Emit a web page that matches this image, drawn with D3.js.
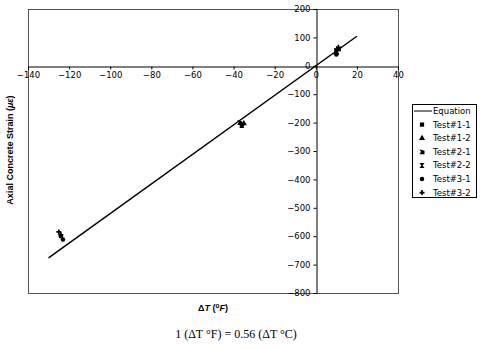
<!DOCTYPE html>
<html>
<head>
<meta charset="utf-8">
<script src="https://cdn.jsdelivr.net/npm/d3@7"></script>
<style>
  body { margin: 0; background: #fff; }
  svg { display: block; }
  .tick text { font-family: "DejaVu Sans", sans-serif; font-size: 8.5px; fill: #000; }
</style>
</head>
<body>
<script>
// equation line end points (deltaT F, strain)
const eqX = [-130, 20]
const eqY = [-676, 104]

// test data, deltaT (F) and axial strain (microstrain)
const seriesNames = ['Test#1-1', 'Test#1-2', 'Test#2-1', 'Test#2-2', 'Test#3-1', 'Test#3-2']
const seriesX = [
    [10, -36],
    [10, -35],
    [11, -37],
    [10, -36],
    [-124, -123, 10],
    [-125, -124, 11]
]
const seriesY = [
    [55, -207],
    [45, -203],
    [60, -200],
    [50, -210],
    [-600, -612, 40],
    [-585, -595, 65]
]

const xTicks = [-140, -120, -100, -80, -60, -40, -20, 0, 20, 40]
const yTicks = [200, 100, 0, -100, -200, -300, -400, -500, -600, -700, -800]

const width = 482, height = 349
const plot = { left: 28, right: 398, top: 9, bottom: 293 }

const svg = d3.select('body').append('svg')
    .attr('width', width)
    .attr('height', height)

const xScale = d3.scaleLinear()
    .domain([-140, 40])
    .range([plot.left, plot.right])

const yScale = d3.scaleLinear()
    .domain([-800, 200])
    .range([plot.bottom, plot.top])

// plot area frame
svg.append('rect')
    .attr('x', plot.left + 0.5)
    .attr('y', plot.top + 0.5)
    .attr('width', plot.right - plot.left)
    .attr('height', plot.bottom - plot.top)
    .attr('fill', 'none')
    .attr('stroke', '#555')

// x axis crosses at strain 0
const xAxis = svg.append('g')
    .attr('transform', 'translate(0,' + (Math.round(yScale(0)) + 0.5) + ')')
    .call(d3.axisBottom(xScale).tickValues(xTicks).tickSize(3).tickPadding(2).tickFormat(d3.format('d')))
xAxis.select('.domain').attr('stroke', '#000')

// y axis crosses at deltaT 0
const yAxis = svg.append('g')
    .attr('transform', 'translate(' + (Math.round(xScale(0)) + 0.5) + ',0)')
    .call(d3.axisLeft(yScale).tickValues(yTicks).tickSize(3).tickPadding(3).tickFormat(d3.format('d')))
yAxis.select('.domain').attr('stroke', '#000')

// equation line
const line = d3.line()
    .x(d => xScale(d[0]))
    .y(d => yScale(d[1]))

svg.append('path')
    .datum(d3.zip(eqX, eqY))
    .attr('d', line)
    .attr('fill', 'none')
    .attr('stroke', '#000')
    .attr('stroke-width', 1.5)

// marker shapes
const shapes = [
    d3.symbol().type(d3.symbolSquare).size(18)(),
    d3.symbol().type(d3.symbolTriangle).size(16)(),
    'M-2.5,-2.5L2.5,-1L2.5,2.5L-2.5,2.5L-1,0Z',
    'M-2.5,-2.5L2.5,-2.5L0.6,0L2.5,2.5L-2.5,2.5L-0.6,0Z',
    d3.symbol().type(d3.symbolCircle).size(16)(),
    d3.symbol().type(d3.symbolCross).size(14)()
]

seriesNames.forEach((name, i) => {
    svg.append('g').selectAll('path')
        .data(d3.zip(seriesX[i], seriesY[i]))
        .enter()
        .append('path')
        .attr('d', shapes[i])
        .attr('transform', d => 'translate(' + xScale(d[0]) + ',' + yScale(d[1]) + ')')
        .attr('fill', '#000')
})

// legend
const legend = svg.append('g')
legend.append('rect')
    .attr('x', 412.5).attr('y', 104.5)
    .attr('width', 64).attr('height', 93)
    .attr('fill', '#fff').attr('stroke', '#000')

const rowY = i => 111 + i * 13.6
legend.append('line')
    .attr('x1', 414).attr('x2', 432)
    .attr('y1', rowY(0)).attr('y2', rowY(0))
    .attr('stroke', '#000')
legend.append('text')
    .attr('x', 433).attr('y', rowY(0) + 3)
    .style('font-family', 'DejaVu Sans, sans-serif').style('font-size', '8.5px')
    .text('Equation')

seriesNames.forEach((name, i) => {
    legend.append('path')
        .attr('d', shapes[i])
        .attr('transform', 'translate(422,' + rowY(i + 1) + ')')
        .attr('fill', '#000')
    legend.append('text')
        .attr('x', 433).attr('y', rowY(i + 1) + 3)
        .style('font-family', 'DejaVu Sans, sans-serif').style('font-size', '8.5px')
        .text(name)
})

// y axis title
const yTitle = svg.append('text')
    .attr('transform', 'translate(13,150) rotate(-90)')
    .attr('text-anchor', 'middle')
    .style('font-family', 'Liberation Sans, Arial, sans-serif')
    .style('font-size', '9px')
    .style('font-weight', 'bold')
yTitle.append('tspan').text('Axial Concrete Strain (')
yTitle.append('tspan').style('font-style', 'italic').text('με')
yTitle.append('tspan').text(')')

// x axis title
const xTitle = svg.append('text')
    .attr('x', 213).attr('y', 311)
    .attr('text-anchor', 'middle')
    .style('font-family', 'Liberation Sans, Arial, sans-serif')
    .style('font-size', '9px')
    .style('font-weight', 'bold')
xTitle.append('tspan').text('Δ')
xTitle.append('tspan').style('font-style', 'italic').text('T')
xTitle.append('tspan').text(' (')
xTitle.append('tspan').attr('dy', -3).style('font-size', '6.5px').text('o')
xTitle.append('tspan').attr('dy', 3).style('font-style', 'italic').text('F')
xTitle.append('tspan').text(')')

// conversion note
svg.append('text')
    .attr('x', 236).attr('y', 338)
    .attr('text-anchor', 'middle')
    .style('font-family', 'Liberation Serif, Times New Roman, serif')
    .style('font-size', '12px')
    .text('1 (ΔT °F) = 0.56 (ΔT °C)')
</script>
</body>
</html>
